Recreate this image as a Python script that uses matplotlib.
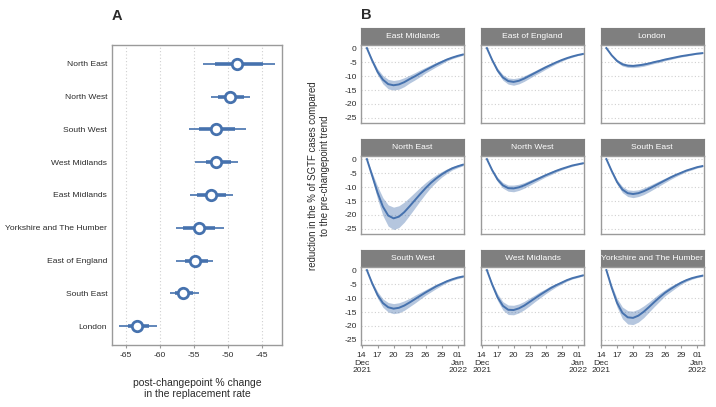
"""Regional SGTF changepoint effects: forest plot (A) and facet curves (B)."""

import numpy as np
import matplotlib
matplotlib.use("Agg")
import matplotlib.pyplot as plt
import matplotlib.dates as mdates

plt.rcParams["font.family"] = ["Liberation Sans", "DejaVu Sans"]
plt.rcParams["axes.unicode_minus"] = False

# ---- panel A data (post-changepoint % change in replacement rate) ----
regions_a = ["London", "South East", "East of England", "Yorkshire and The Humber",
             "East Midlands", "West Midlands", "South West", "North West", "North East"]
est = [-63.4, -56.6, -54.9, -54.3, -52.5, -51.8, -51.7, -49.7, -48.7]
ci95_lo = [-66.0, -58.6, -57.6, -57.7, -55.6, -54.9, -55.7, -52.5, -53.7]
ci95_hi = [-60.5, -54.3, -52.2, -50.6, -49.2, -48.5, -47.4, -46.7, -43.1]
ci50_lo = [-64.7, -57.8, -56.3, -56.6, -54.5, -53.3, -54.2, -51.5, -51.9]
ci50_hi = [-61.6, -55.1, -53.0, -51.9, -50.3, -49.6, -48.9, -47.6, -44.9]

# ---- panel B data (daily, 15 Dec 2021 .. 02 Jan 2022) ----
days = np.arange(np.datetime64("2021-12-15"), np.datetime64("2022-01-03"))

em_mid = [0, -4.5, -8.5, -11.3, -12.9, -13.3, -13.0, -12.2, -11.1, -10.1, -9.0, -7.9,
          -6.9, -5.9, -5.0, -4.1, -3.4, -2.8, -2.3]
em_band = [0, 0.6, 1.1, 1.5, 1.7, 1.7, 1.7, 1.6, 1.4, 1.3, 1.2, 1.0, 0.9, 0.8, 0.7,
           0.5, 0.4, 0.4, 0.3]
ee_mid = [0, -4.3, -8.0, -10.5, -11.8, -12.1, -11.7, -10.9, -9.9, -8.9, -7.9, -6.9,
          -6.0, -5.1, -4.3, -3.6, -3.0, -2.5, -2.1]
ee_band = [0, 0.4, 0.8, 1.0, 1.1, 1.2, 1.1, 1.0, 0.9, 0.8, 0.8, 0.7, 0.6, 0.5, 0.4,
           0.3, 0.3, 0.2, 0.2]
lo_mid = [0, -2.6, -4.6, -5.8, -6.3, -6.4, -6.2, -5.9, -5.5, -5.0, -4.6, -4.1, -3.7,
          -3.3, -2.9, -2.6, -2.3, -2.0, -1.8]
lo_band = [0, 0.3, 0.5, 0.6, 0.6, 0.6, 0.6, 0.6, 0.5, 0.5, 0.5, 0.4, 0.4, 0.3, 0.3,
           0.3, 0.2, 0.2, 0.2]
ne_mid = [0, -6.0, -12.0, -17.0, -20.2, -21.2, -20.6, -19.0, -16.9, -14.7, -12.5,
          -10.4, -8.5, -6.9, -5.5, -4.3, -3.3, -2.6, -2.0]
ne_band = [0, 1.1, 2.3, 3.2, 3.8, 4.0, 3.9, 3.6, 3.2, 2.8, 2.4, 2.0, 1.6, 1.3, 1.0,
           0.8, 0.6, 0.5, 0.4]
nw_mid = [0, -4.0, -7.3, -9.4, -10.4, -10.5, -10.1, -9.4, -8.5, -7.6, -6.7, -5.8,
          -5.0, -4.2, -3.5, -2.9, -2.3, -1.9, -1.5]
nw_band = [0, 0.4, 0.8, 1.0, 1.1, 1.2, 1.1, 1.0, 0.9, 0.8, 0.7, 0.6, 0.6, 0.5, 0.4,
           0.3, 0.3, 0.2, 0.2]
se_mid = [0, -4.3, -8.2, -10.9, -12.2, -12.5, -12.2, -11.5, -10.6, -9.6, -8.6, -7.6,
          -6.6, -5.7, -4.9, -4.1, -3.5, -2.9, -2.5]
se_band = [0, 0.4, 0.8, 1.1, 1.2, 1.3, 1.2, 1.2, 1.1, 1.0, 0.9, 0.8, 0.7, 0.6, 0.5,
           0.4, 0.4, 0.3, 0.3]
sw_mid = [0, -4.8, -8.9, -11.8, -13.3, -13.8, -13.5, -12.7, -11.6, -10.4, -9.2, -8.0,
          -6.9, -5.8, -4.9, -4.0, -3.3, -2.7, -2.3]
sw_band = [0, 0.6, 1.2, 1.5, 1.7, 1.8, 1.8, 1.7, 1.5, 1.4, 1.2, 1.0, 0.9, 0.8, 0.6,
           0.5, 0.4, 0.4, 0.3]
wm_mid = [0, -5.2, -9.7, -12.8, -14.2, -14.3, -13.7, -12.7, -11.4, -10.1, -8.8, -7.6,
          -6.4, -5.4, -4.5, -3.6, -2.9, -2.4, -1.9]
wm_band = [0, 0.6, 1.2, 1.5, 1.7, 1.7, 1.6, 1.5, 1.4, 1.2, 1.1, 0.9, 0.8, 0.6, 0.5,
           0.4, 0.3, 0.3, 0.2]
yh_mid = [0, -6.3, -11.7, -15.3, -16.9, -17.1, -16.3, -14.9, -13.2, -11.4, -9.7, -8.1,
          -6.8, -5.6, -4.5, -3.6, -2.9, -2.4, -2.0]
yh_band = [0, 0.9, 1.6, 2.1, 2.4, 2.4, 2.3, 2.1, 1.8, 1.6, 1.4, 1.1, 1.0, 0.8, 0.6,
           0.5, 0.4, 0.3, 0.3]

facets = [
    ("East Midlands", em_mid, em_band), ("East of England", ee_mid, ee_band),
    ("London", lo_mid, lo_band), ("North East", ne_mid, ne_band),
    ("North West", nw_mid, nw_band), ("South East", se_mid, se_band),
    ("South West", sw_mid, sw_band), ("West Midlands", wm_mid, wm_band),
    ("Yorkshire and The Humber", yh_mid, yh_band),
]

blue = "#4672ae"
border = "#9a9a9a"
grid_c = "#d0d0d0"
text_c = "#2b2b2b"
tick_fs = 6.1

W, H = 716, 407
fig = plt.figure(figsize=(W / 100, H / 100), dpi=100)


def px_axes(left, top, right, bottom):
    return fig.add_axes([left / W, 1 - bottom / H, (right - left) / W, (bottom - top) / H])


def style_box(ax):
    for s in ax.spines.values():
        s.set_color(border)
        s.set_linewidth(1.0)


# ---- panel A ----
ax = px_axes(112, 45, 282, 345)
ypos = np.arange(len(regions_a))
ax.hlines(ypos, ci95_lo, ci95_hi, color=blue, lw=1.2, zorder=3)
ax.hlines(ypos, ci50_lo, ci50_hi, color=blue, lw=2.6, zorder=3)
ax.plot(est, ypos, "o", ms=7.5, mfc="white", mec=blue, mew=2.0, zorder=4)
ax.set_xlim(-67.06, -42.06)
ax.set_ylim(-0.58, len(regions_a) - 1 + 0.58)
ax.set_xticks([-65, -60, -55, -50, -45])
ax.set_yticks(ypos)
ax.set_yticklabels(regions_a)
ax.grid(axis="x", color=grid_c, ls=(0, (1, 2)), lw=0.8)
ax.set_axisbelow(True)
ax.tick_params(axis="y", length=0, pad=3.5, labelsize=tick_fs, labelcolor=text_c)
ax.tick_params(axis="x", length=2, color=border, labelsize=tick_fs, labelcolor=text_c,
               pad=3)
style_box(ax)
ax.set_xlabel("post-changepoint % change\nin the replacement rate", fontsize=7.5,
              color=text_c, labelpad=14, linespacing=1.05)
fig.text(117 / W, 1 - 16 / H, "A", fontsize=10.5, fontweight="bold", color=text_c,
         ha="center", va="center")

# ---- panel B ----
fig.text(366 / W, 1 - 15 / H, "B", fontsize=10.5, fontweight="bold", color=text_c,
         ha="center", va="center")
fig.text(319 / W, 1 - 176 / H,
         "reduction in the % of SGTF cases compared\nto the pre-changepoint trend",
         rotation=90, ha="center", va="center", fontsize=6.9, color=text_c,
         linespacing=1.15)

col_left = [361, 481, 600.5]
tick_dates = [np.datetime64("2021-12-14") + np.timedelta64(k, "D") for k in range(0, 19, 3)]
tick_labels = ["14\nDec\n2021", "17", "20", "23", "26", "29", "01\nJan\n2022"]
x0 = mdates.date2num(np.datetime64("2021-12-14")) - 0.1
x1 = mdates.date2num(np.datetime64("2022-01-02")) + 0.2

for i, (name, mid, band) in enumerate(facets):
    r, c = divmod(i, 3)
    left = col_left[c]
    right = left + 103
    top = 45 + 111 * r
    bottom = 123 + 111 * r

    # strip header
    sax = px_axes(left, top - 17, right, top)
    sax.set_facecolor("#7f7f7f")
    sax.set_xticks([])
    sax.set_yticks([])
    for s in sax.spines.values():
        s.set_color("#7f7f7f")
    sax.text(0.5, 0.5, name, color="white", fontsize=tick_fs, ha="center", va="center",
             transform=sax.transAxes)

    ax = px_axes(left, top, right, bottom)
    mid_a = np.array(mid)
    band_a = np.array(band)
    ax.fill_between(days, mid_a - band_a, mid_a + band_a, color=blue, alpha=0.4, lw=0)
    ax.plot(days, mid_a, color=blue, lw=1.4)
    ax.set_xlim(x0, x1)
    ax.set_ylim(-26.8, 1.1)
    ax.set_yticks([0, -5, -10, -15, -20, -25])
    ax.set_xticks(tick_dates)
    ax.grid(axis="y", color=grid_c, ls=(0, (1, 2)), lw=0.8)
    ax.set_axisbelow(True)
    style_box(ax)
    ax.tick_params(length=0, labelsize=tick_fs, labelcolor=text_c, pad=3)
    if c == 0:
        ax.set_yticklabels(["0", "-5", "-10", "-15", "-20", "-25"])
    else:
        ax.set_yticklabels([])
    if r == 2:
        ax.set_xticklabels(tick_labels, linespacing=1.15)
        ax.tick_params(axis="x", length=2, color=border)
    else:
        ax.set_xticklabels([])

fig.savefig("out.png", dpi=100)
